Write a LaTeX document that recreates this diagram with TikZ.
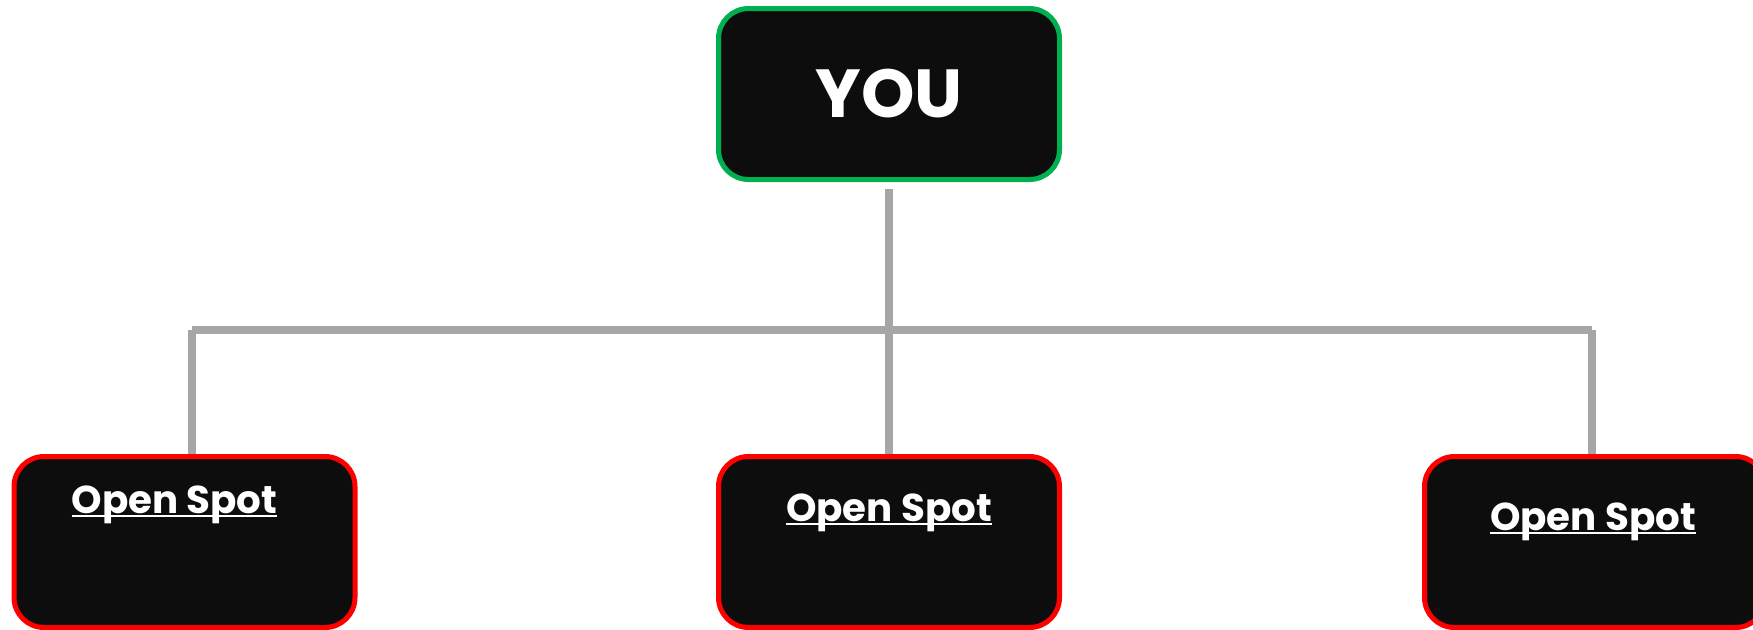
\documentclass[tikz,border=0pt]{standalone}
\usepackage{fontspec}
\setmainfont{Poppins}
\usepackage{xcolor}
\usepackage{tikz}
\usetikzlibrary{positioning}
\definecolor{boxfill}{HTML}{0D0D0D}
\definecolor{youline}{HTML}{00B050}
\definecolor{spotline}{HTML}{FF0000}
\definecolor{linkgray}{HTML}{A6A6A6}
\newcommand{\spotul}[1]{\setbox0\hbox{#1}\rlap{\rule[-2pt]{\wd0}{1pt}}\box0}

\begin{document}
\begin{tikzpicture}[
  x=0.5pt, y=-0.5pt,
  box/.style={draw, rounded corners=15pt, fill=boxfill, line width=2.5pt,
              minimum width=170.5pt, minimum height=85.5pt, inner sep=0pt},
  spot/.style={box, draw=spotline},
  spottext/.style={inner sep=0pt, text=white,
                   font=\bfseries\fontsize{19.4}{24}\selectfont},
  link/.style={draw=linkgray, line width=4pt},
  node distance=15pt
]
\useasboundingbox (0,0) rectangle (1753,629);
\clip (0,0) rectangle (1753,629);
\node[box, draw=youline, text=white,
      font=\bfseries\fontsize{34}{40}\selectfont] (you) at (889,94) {YOU};
\node[spot] (left)  at (184.5,542) {};
\node[spot] (mid)   at (889,542)   {};
\node[spot] (right) at (1595,542)  {};
\node[spottext, below=15.5pt of left.north, xshift=-5pt] (lefttxt) {\spotul{Open Spot}};
\node[spottext, below=19.5pt of mid.north]               (midtxt)  {\spotul{Open Spot}};
\node[spottext, below=24pt of right.north, xshift=-1pt]  (righttxt){\spotul{Open Spot}};
% tree lines
\coordinate (busL) at (192,330);
\coordinate (busR) at (1592,330);
\draw[link] ([yshift=-3.5pt]you.south) -- (mid.north);
\draw[link] (busL) -- (busR);
\draw[link] (busL) -- (busL |- left.north);
\draw[link] (busR) -- (busR |- right.north);
\end{tikzpicture}
\end{document}
